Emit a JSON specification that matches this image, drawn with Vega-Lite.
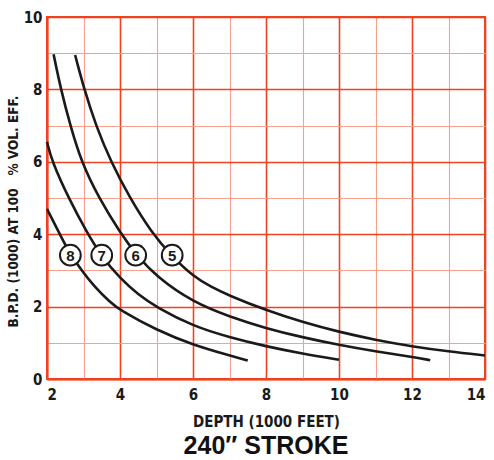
{
  "$schema": "https://vega.github.io/schema/vega-lite/v6.json",
  "width": 438,
  "height": 362,
  "autosize": {"type": "none"},
  "padding": {"left": 47, "top": 17, "right": 9, "bottom": 81},
  "background": "white",
  "title": {
    "text": "240″ STROKE",
    "orient": "bottom",
    "font": "Liberation Sans",
    "fontSize": 25,
    "fontWeight": "bold",
    "color": "#111111",
    "offset": 5,
    "anchor": "middle"
  },
  "config": {
    "view": {"stroke": "#f0421e", "strokeWidth": 2},
    "axis": {
      "labelFont": "Liberation Sans Narrow, DejaVu Sans Condensed, sans-serif",
      "labelFontWeight": "bold",
      "labelFontSize": 15,
      "labelColor": "#1a1a1a",
      "titleFont": "Liberation Sans Narrow, DejaVu Sans Condensed, sans-serif",
      "titleFontWeight": "bold",
      "titleColor": "#1a1a1a",
      "ticks": false,
      "domainColor": "#f0421e",
      "domainWidth": 2,
      "gridOpacity": 1
    }
  },
  "datasets": {
    "curves": [
      {"curve": "5", "depth": 2.77, "bpd": 8.95},
      {"curve": "5", "depth": 3.02, "bpd": 8.0},
      {"curve": "5", "depth": 3.34, "bpd": 7.0},
      {"curve": "5", "depth": 3.75, "bpd": 6.0},
      {"curve": "5", "depth": 4.27, "bpd": 5.0},
      {"curve": "5", "depth": 4.86, "bpd": 4.05},
      {"curve": "5", "depth": 5.43, "bpd": 3.38},
      {"curve": "5", "depth": 6.0, "bpd": 2.84},
      {"curve": "5", "depth": 6.5, "bpd": 2.54},
      {"curve": "5", "depth": 7.0, "bpd": 2.3},
      {"curve": "5", "depth": 8.0, "bpd": 1.9},
      {"curve": "5", "depth": 9.0, "bpd": 1.57},
      {"curve": "5", "depth": 10.0, "bpd": 1.3},
      {"curve": "5", "depth": 11.0, "bpd": 1.08},
      {"curve": "5", "depth": 12.0, "bpd": 0.9},
      {"curve": "5", "depth": 13.0, "bpd": 0.76},
      {"curve": "5", "depth": 14.0, "bpd": 0.65},
      {"curve": "6", "depth": 2.18, "bpd": 8.97},
      {"curve": "6", "depth": 2.38, "bpd": 8.0},
      {"curve": "6", "depth": 2.64, "bpd": 7.0},
      {"curve": "6", "depth": 2.94, "bpd": 6.0},
      {"curve": "6", "depth": 3.42, "bpd": 5.0},
      {"curve": "6", "depth": 4.0, "bpd": 4.05},
      {"curve": "6", "depth": 4.43, "bpd": 3.45},
      {"curve": "6", "depth": 5.0, "bpd": 2.82},
      {"curve": "6", "depth": 6.0, "bpd": 2.12},
      {"curve": "6", "depth": 7.0, "bpd": 1.72},
      {"curve": "6", "depth": 8.0, "bpd": 1.4},
      {"curve": "6", "depth": 9.0, "bpd": 1.15},
      {"curve": "6", "depth": 10.0, "bpd": 0.94},
      {"curve": "6", "depth": 11.0, "bpd": 0.76},
      {"curve": "6", "depth": 12.0, "bpd": 0.61},
      {"curve": "6", "depth": 12.5, "bpd": 0.52},
      {"curve": "7", "depth": 2.0, "bpd": 6.55},
      {"curve": "7", "depth": 2.14, "bpd": 6.0},
      {"curve": "7", "depth": 2.59, "bpd": 5.0},
      {"curve": "7", "depth": 3.09, "bpd": 4.05},
      {"curve": "7", "depth": 3.5, "bpd": 3.38},
      {"curve": "7", "depth": 4.0, "bpd": 2.78},
      {"curve": "7", "depth": 4.5, "bpd": 2.33},
      {"curve": "7", "depth": 5.0, "bpd": 1.98},
      {"curve": "7", "depth": 6.0, "bpd": 1.46},
      {"curve": "7", "depth": 7.0, "bpd": 1.15},
      {"curve": "7", "depth": 8.0, "bpd": 0.9},
      {"curve": "7", "depth": 9.0, "bpd": 0.7},
      {"curve": "7", "depth": 10.0, "bpd": 0.53},
      {"curve": "8", "depth": 2.0, "bpd": 4.7},
      {"curve": "8", "depth": 2.45, "bpd": 3.8},
      {"curve": "8", "depth": 2.64, "bpd": 3.45},
      {"curve": "8", "depth": 2.95, "bpd": 3.0},
      {"curve": "8", "depth": 3.3, "bpd": 2.55},
      {"curve": "8", "depth": 3.73, "bpd": 2.12},
      {"curve": "8", "depth": 4.0, "bpd": 1.9},
      {"curve": "8", "depth": 5.0, "bpd": 1.35},
      {"curve": "8", "depth": 6.0, "bpd": 0.94},
      {"curve": "8", "depth": 7.0, "bpd": 0.65},
      {"curve": "8", "depth": 7.5, "bpd": 0.51}
    ],
    "labels": [
      {"curve": "8", "depth": 2.64, "bpd": 3.42},
      {"curve": "7", "depth": 3.5, "bpd": 3.42},
      {"curve": "6", "depth": 4.43, "bpd": 3.42},
      {"curve": "5", "depth": 5.43, "bpd": 3.42}
    ]
  },
  "encoding": {
    "x": {
      "field": "depth",
      "type": "quantitative",
      "scale": {"domain": [2, 14], "nice": false, "zero": false},
      "axis": {
        "title": "DEPTH (1000 FEET)",
        "titleFontSize": 15,
        "titlePadding": 12,
        "values": [2, 3, 4, 5, 6, 7, 8, 9, 10, 11, 12, 13, 14],
        "labelExpr": "datum.value % 2 === 0 ? datum.label : ''",
        "labelPadding": 8,
        "grid": true,
        "gridColor": {"condition": {"test": "datum.value % 2 === 0", "value": "#f0421e"}, "value": "#f7a08c"},
        "gridWidth": {"condition": {"test": "datum.value % 2 === 0", "value": 1.6}, "value": 1.1}
      }
    },
    "y": {
      "field": "bpd",
      "type": "quantitative",
      "scale": {"domain": [0, 10], "nice": false},
      "axis": {
        "title": "B.P.D. (1000) AT 100\u00a0\u00a0\u00a0% VOL. EFF.",
        "titleFontSize": 13.5,
        "titlePadding": 3,
        "titleY": 194,
        "values": [0, 1, 2, 3, 4, 5, 6, 7, 8, 9, 10],
        "labelExpr": "datum.value % 2 === 0 ? datum.label : ''",
        "labelPadding": 5,
        "grid": true,
        "gridColor": {"condition": {"test": "datum.value % 2 === 0", "value": "#f0421e"}, "value": "#f7a08c"},
        "gridWidth": {"condition": {"test": "datum.value % 2 === 0", "value": 1.6}, "value": 1.1}
      }
    }
  },
  "layer": [
    {
      "data": {"name": "curves"},
      "mark": {"type": "line", "color": "#1a1a1a", "strokeWidth": 2.6, "interpolate": "basis"},
      "encoding": {"detail": {"field": "curve"}}
    },
    {
      "data": {"name": "labels"},
      "mark": {"type": "point", "shape": "circle", "filled": false, "fill": "white", "fillOpacity": 1, "stroke": "#1a1a1a", "strokeWidth": 2, "size": 430, "opacity": 1}
    },
    {
      "data": {"name": "labels"},
      "mark": {"type": "text", "font": "Liberation Sans", "fontSize": 15, "fontWeight": "bold", "color": "#1a1a1a", "baseline": "middle", "align": "center", "dy": 1},
      "encoding": {"text": {"field": "curve"}}
    }
  ]
}
